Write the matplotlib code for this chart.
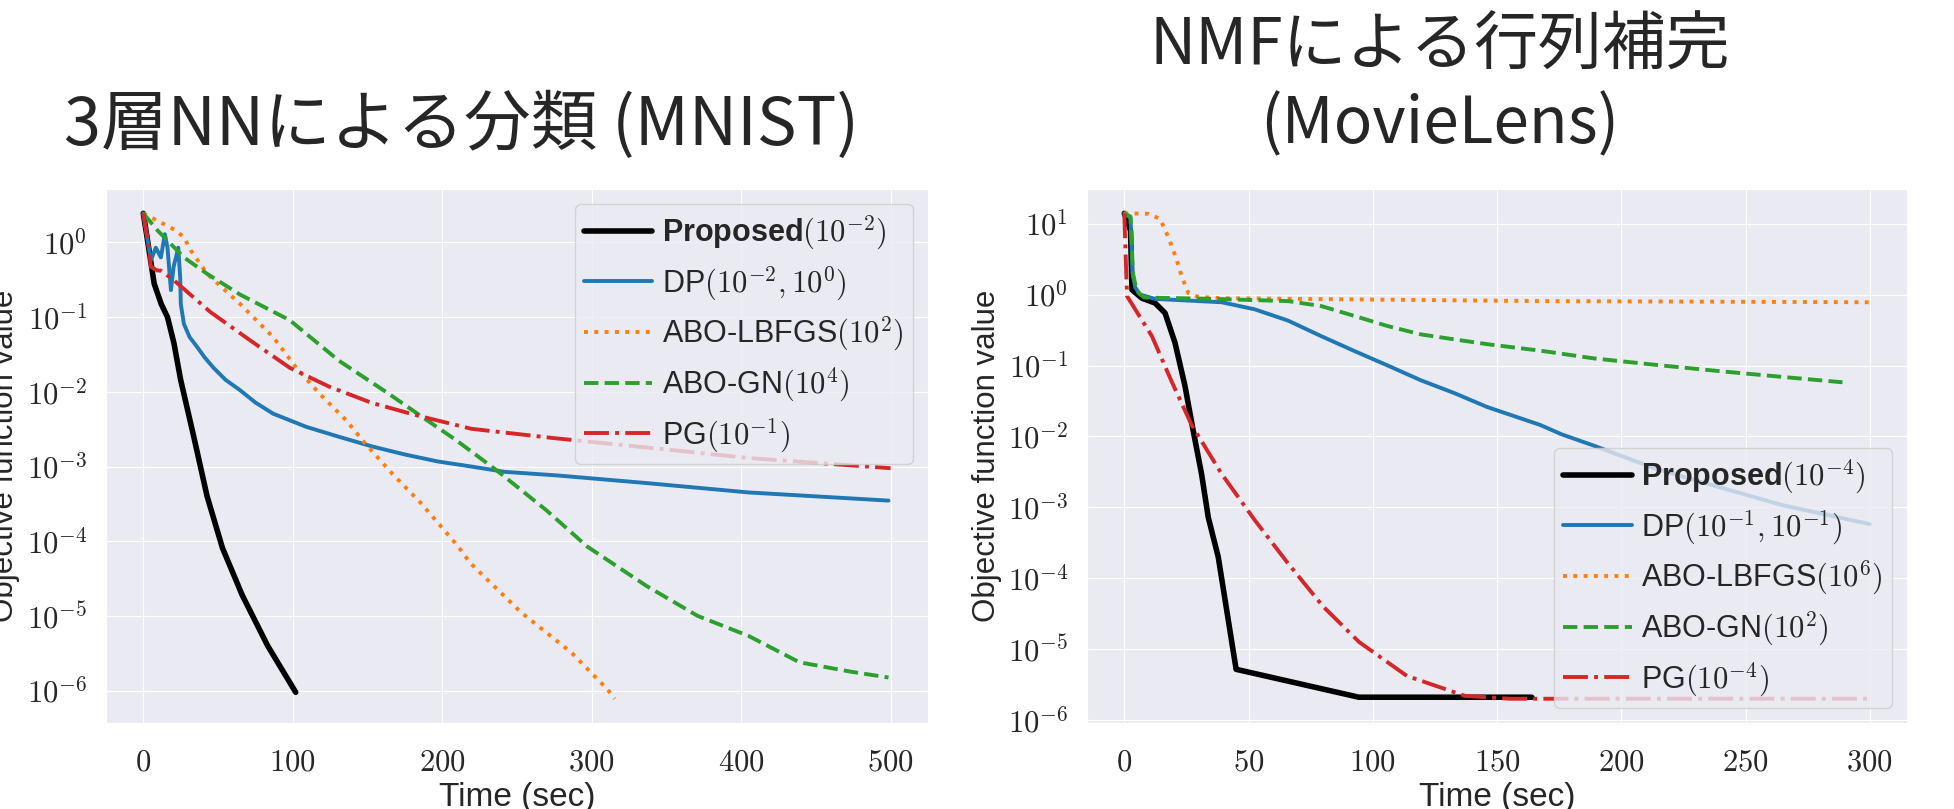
import math
import matplotlib
matplotlib.use('Agg')
import matplotlib.pyplot as plt
import seaborn as sns
from matplotlib.ticker import FuncFormatter, LogLocator

# ---- MNIST (left) ----
mn_prop_t = [0, 2.9, 7.3, 12, 16.2, 20.5, 25, 33.8, 42.7, 53, 66.2, 83.2, 102]
mn_prop_y = [2.45, 1.05, 0.28, 0.15, 0.10, 0.045, 0.0145, 2.5e-3, 4.0e-4, 8.1e-5, 1.9e-5, 4.0e-6, 9.5e-7]

mn_dp_t = [0, 5.1, 8.4, 11.8, 14.4, 16.2, 18.5, 20.3, 23.4, 24.7, 25.1, 27.2, 31, 36, 41, 47, 55, 64.8,
           75, 86.9, 109, 131, 153, 175, 197, 219.5, 241.6, 277, 337, 405, 498.6]
mn_dp_y = [2.45, 0.58, 0.85, 0.63, 1.29, 0.85, 0.23, 0.47, 0.85, 0.34, 0.15, 0.081, 0.054, 0.040,
           0.029, 0.021, 0.0145, 0.0105, 7.2e-3, 5.1e-3, 3.4e-3, 2.5e-3, 1.86e-3, 1.45e-3, 1.17e-3,
           1.0e-3, 8.5e-4, 7.6e-4, 6.0e-4, 4.5e-4, 3.5e-4]

mn_lbfgs_t = [0, 9.5, 21.7, 27.2, 31.8, 42.7, 64.8, 86.9, 102.4, 117.8, 135.5, 148.8, 166.4, 186,
              210.7, 218.8, 252.7, 286.7, 310.4, 315.4]
mn_lbfgs_y = [2.45, 1.95, 1.45, 1.17, 0.78, 0.38, 0.15, 0.054, 0.021, 9.5e-3, 4.2e-3, 2.0e-3, 8.1e-4,
              3.2e-4, 8.5e-5, 5.1e-5, 1.12e-5, 3.2e-6, 1.05e-6, 7.8e-7]

mn_gn_t = [0, 9.5, 27.2, 42.7, 64.8, 98, 131, 164, 186, 208.7, 235.8, 269.7, 297, 337, 371, 405, 439,
           473, 498.6]
mn_gn_y = [2.45, 1.45, 0.63, 0.38, 0.20, 0.091, 0.026, 9.5e-3, 4.7e-3, 2.3e-3, 9.1e-4, 2.6e-4, 8.5e-5,
           2.5e-5, 1.0e-5, 5.4e-6, 2.4e-6, 1.8e-6, 1.5e-6]

mn_pg_t = [0, 4, 5.1, 9.5, 11.7, 20.6, 44.9, 71.4, 98, 124.5, 153, 182, 219.5, 274.8, 349, 405, 450, 500]
mn_pg_y = [2.45, 0.78, 0.47, 0.42, 0.42, 0.31, 0.117, 0.049, 0.021, 0.0117, 7.1e-3, 4.9e-3, 3.2e-3,
           2.4e-3, 1.7e-3, 1.3e-3, 1.12e-3, 9.5e-4]

# ---- MovieLens (right) ----
ml_prop_t = [0, 2.5, 3.1, 7.1, 12.4, 16.4, 20.4, 24.4, 27.8, 31.1, 33.8, 37.8, 45, 94.4, 164]
ml_prop_y = [14, 8.0, 1.17, 0.89, 0.76, 0.55, 0.21, 0.052, 0.0117, 2.95e-3, 7.2e-4, 2.0e-4, 5.2e-6,
             2.1e-6, 2.1e-6]

ml_dp_t = [0, 2.5, 3.3, 4.4, 6.4, 12.4, 39.2, 52.5, 65.9, 79.2, 92.6, 106, 119.3, 132.7, 146, 167.4,
           176, 189, 202, 214, 240, 265, 300]
ml_dp_y = [14, 12, 2.0, 1.26, 1.0, 0.87, 0.78, 0.62, 0.43, 0.26, 0.16, 0.10, 0.062, 0.041, 0.026,
           0.0145, 0.0107, 7.4e-3, 5.0e-3, 3.5e-3, 1.9e-3, 1.07e-3, 5.8e-4]

ml_lbfgs_t = [0, 9.7, 14.4, 17.7, 21.1, 23.1, 25.8, 29.7, 39.2, 167.4, 300]
ml_lbfgs_y = [14, 13.8, 11.7, 6.5, 3.1, 1.8, 1.05, 0.93, 0.89, 0.81, 0.78]

ml_gn_t = [0, 2.5, 3.5, 5, 8, 36, 65.9, 79.2, 92.6, 106, 119.3, 132.7, 146, 167.4, 189, 214, 240, 265, 289]
ml_gn_y = [14, 12.6, 2.0, 1.12, 0.91, 0.87, 0.81, 0.69, 0.50, 0.36, 0.275, 0.234, 0.20, 0.162, 0.126,
           0.102, 0.083, 0.069, 0.058]

ml_pg_t = [0, 0.5, 1.1, 11.1, 19.1, 27.1, 39.2, 52.5, 66, 80, 94.5, 113.7, 137, 155, 300]
ml_pg_y = [14, 4.0, 0.95, 0.26, 0.059, 0.0145, 2.95e-3, 6.6e-4, 1.6e-4, 4.0e-5, 1.26e-5, 4.2e-6,
           2.2e-6, 2.0e-6, 2.0e-6]

mn_labels = [r'Proposed$(10^{-2})$', r'DP$(10^{-2},10^{0})$', r'ABO-LBFGS$(10^{2})$',
             r'ABO-GN$(10^{4})$', r'PG$(10^{-1})$']
ml_labels = [r'Proposed$(10^{-4})$', r'DP$(10^{-1},10^{-1})$', r'ABO-LBFGS$(10^{6})$',
             r'ABO-GN$(10^{2})$', r'PG$(10^{-4})$']

sns.set_style('darkgrid')
plt.rcParams['font.family'] = ['Liberation Sans', 'Noto Sans CJK JP']
plt.rcParams['mathtext.fontset'] = 'cm'

fig = plt.figure(figsize=(19.54, 8.09), dpi=100)
ax1 = fig.add_axes([0.0542, 0.1063, 0.4207, 0.660])
ax2 = fig.add_axes([0.5563, 0.1063, 0.4197, 0.660])

ylog_fmt = FuncFormatter(lambda v, p: r'$10^{%d}$' % round(math.log10(v)))
x_fmt = FuncFormatter(lambda v, p: r'$%d$' % v)


def draw(ax, series, labels, loc):
    styles = [('black', '-', 4.0), ('tab:blue', '-', 2.8), ('tab:orange', ':', 2.8),
              ('tab:green', '--', 2.8), ('tab:red', '-.', 2.8)]
    for (t, y), lab, (c, ls, lw) in zip(series, labels, styles):
        ax.plot(t, y, color=c, ls=ls, lw=lw, label=lab)
    ax.set_yscale('log')
    ax.yaxis.set_major_locator(LogLocator(base=10, numticks=20))
    ax.yaxis.set_major_formatter(ylog_fmt)
    ax.yaxis.set_minor_locator(LogLocator(base=10, subs=[]))
    ax.xaxis.set_major_formatter(x_fmt)
    ax.tick_params(axis='x', labelsize=22, pad=14)
    ax.tick_params(axis='y', labelsize=22, pad=10)
    ax.set_xlabel('Time (sec)', fontsize=24)
    ax.set_ylabel('Objective function value', fontsize=22.5)
    ax.yaxis.set_label_coords(-0.104, 0.5)
    ax.xaxis.set_label_coords(0.5, -0.11)
    leg = ax.legend(loc=loc, fontsize=22, handlelength=2.25, handletextpad=0.3,
                    labelspacing=0.4, borderpad=0.3)
    leg.get_texts()[0].set_fontweight('bold')


draw(ax1, [(mn_prop_t, mn_prop_y), (mn_dp_t, mn_dp_y), (mn_lbfgs_t, mn_lbfgs_y),
           (mn_gn_t, mn_gn_y), (mn_pg_t, mn_pg_y)], mn_labels, 'upper right')
draw(ax2, [(ml_prop_t, ml_prop_y), (ml_dp_t, ml_dp_y), (ml_lbfgs_t, ml_lbfgs_y),
           (ml_gn_t, ml_gn_y), (ml_pg_t, ml_pg_y)], ml_labels, 'lower right')
ax2.set_xticks([0, 50, 100, 150, 200, 250, 300])

fig.text(0.236, 0.845, '3層NNによる分類 (MNIST)', fontsize=48, ha='center', va='center',
         family=['Noto Sans CJK JP'])
fig.text(0.737, 0.942, 'NMFによる行列補完', fontsize=46, ha='center', va='center',
         family=['Noto Sans CJK JP'])
fig.text(0.737, 0.845, '(MovieLens)', fontsize=46, ha='center', va='center',
         family=['Noto Sans CJK JP'])

fig.savefig('out.png', dpi=100)
